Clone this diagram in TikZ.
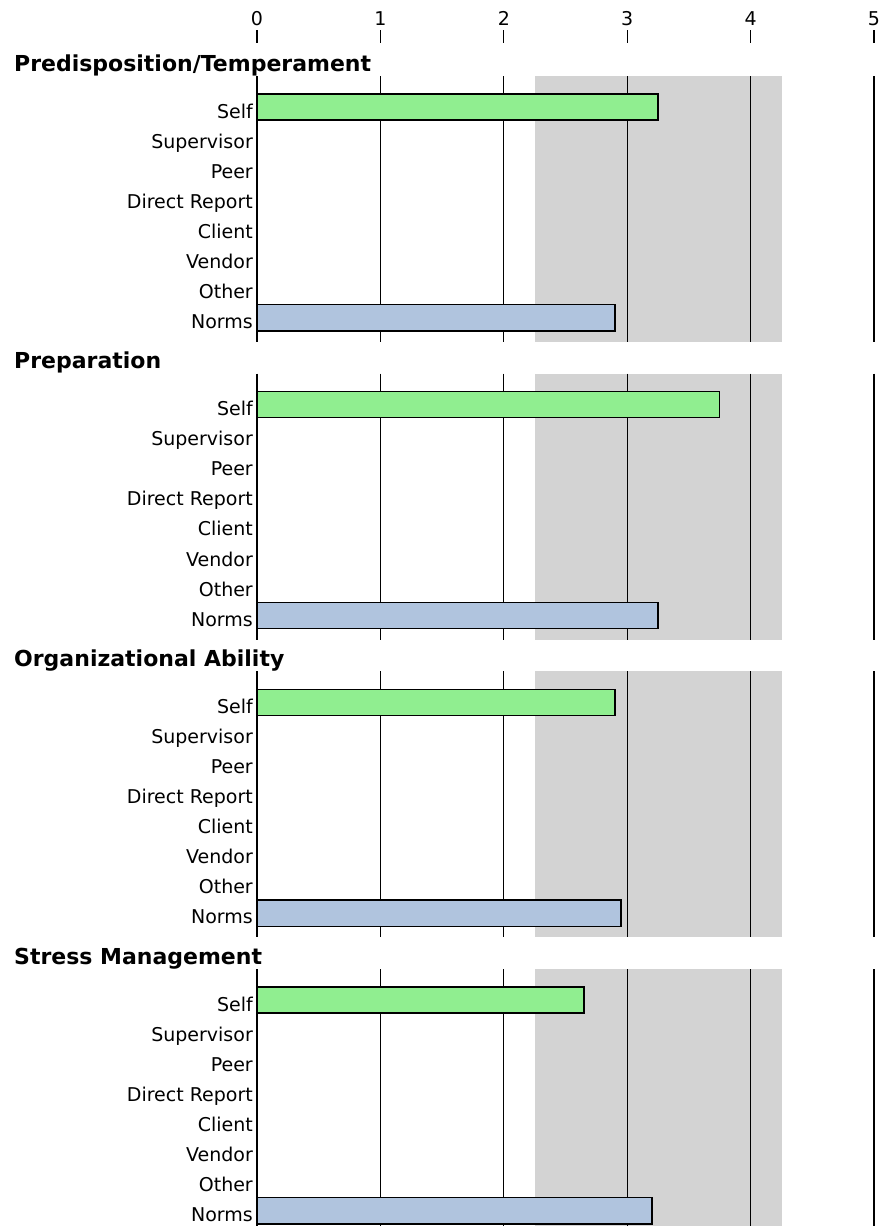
\documentclass[tikz,border=0pt]{standalone}
\usepackage{fontspec}
\setmainfont{DejaVu Sans}
\definecolor{selfgreen}{HTML}{90EE90}
\definecolor{normblue}{HTML}{B0C4DE}
\definecolor{bandgray}{HTML}{D3D3D3}
\begin{document}
\begin{tikzpicture}[x=1pt,y=-1pt,
  gridline/.style={black,line width=1.3pt},
  tickmark/.style={black,line width=1.2pt},
  ticklabel/.style={anchor=base,inner sep=0pt,font=\fontsize{19}{19}\selectfont},
  rowlabel/.style={anchor=base east,inner sep=0pt,font=\fontsize{19}{19}\selectfont},
  sectitle/.style={anchor=base west,inner sep=0pt,font=\bfseries\fontsize{22}{22}\selectfont},
  selfbar/.style={fill=selfgreen,draw=black,line width=1.3pt},
  normbar/.style={fill=normblue,draw=black,line width=1.3pt},
  band/.style={fill=bandgray,draw=none}
]
\useasboundingbox (0,0) rectangle (883,1226);
\clip (0,0) rectangle (883,1226);
\fill[white] (0,0) rectangle (883,1226);
% top axis
\foreach \i in {0,...,5}{
  \node[ticklabel] (tick\i) at ({257+\i*123.4},25) {\i};
  \draw[tickmark] ({257+\i*123.4},30) -- ({257+\i*123.4},43);
}
% sections
\foreach \k/\ttl/\s/\n in {0/{Predisposition/Temperament}/3.25/2.9,
                           1/{Preparation}/3.75/3.25,
                           2/{Organizational Ability}/2.9/2.95,
                           3/{Stress Management}/2.65/3.2}{
  \pgfmathsetmacro\oy{\k*297.7}
  \node[sectitle] (title\k) at (14,\oy+71) {\ttl};
  \fill[band] (534.7,\oy+76) rectangle (781.5,\oy+342);
  \foreach \i in {0,...,5}{
    \draw[gridline] ({257+\i*123.4},\oy+76) -- ({257+\i*123.4},\oy+342);
  }
  \foreach \lab [count=\j from 0] in {Self,Supervisor,Peer,Direct Report,Client,Vendor,Other,Norms}{
    \node[rowlabel] (lab\k-\j) at (253,{\oy+107+\j*30.07+11}) {\lab};
  }
  \draw[selfbar] (257,\oy+94) rectangle ({257+\s*123.4},\oy+120);
  \draw[normbar] (257,\oy+304.5) rectangle ({257+\n*123.4},\oy+331);
}
\end{tikzpicture}
\end{document}
